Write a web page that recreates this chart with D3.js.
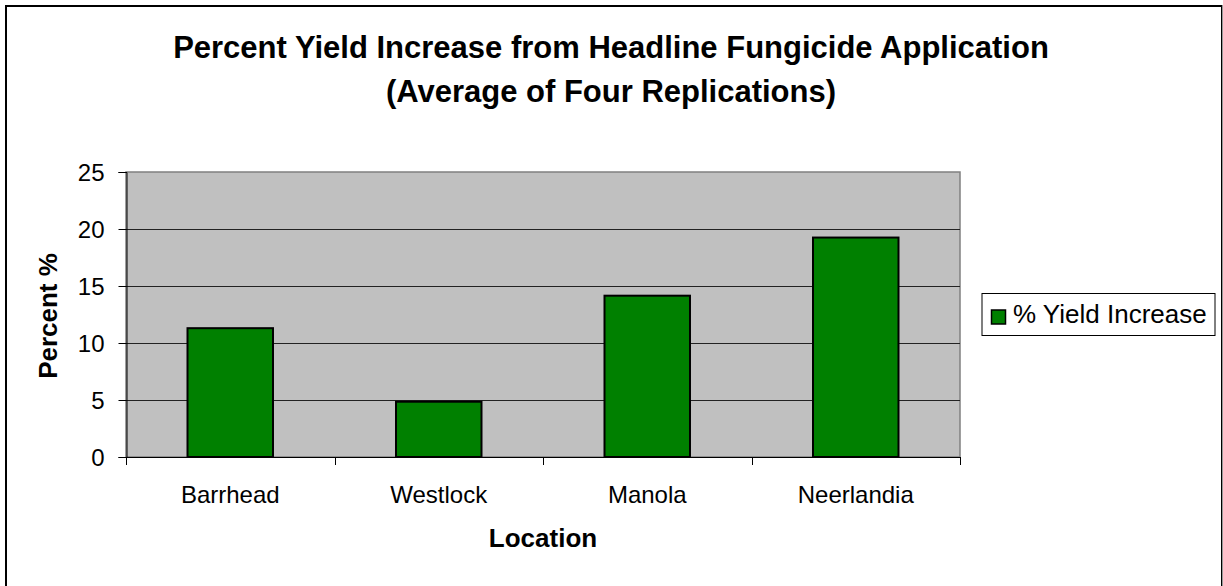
<!DOCTYPE html>
<html><head><meta charset="utf-8">
<script src="https://cdn.jsdelivr.net/npm/d3@7"></script>
<style>body{margin:0;background:#fff}svg{display:block;font-family:"Liberation Sans",Arial,sans-serif}</style>
</head><body><svg id="c" width="1223" height="586"></svg>
<script>
const categories = ["Barrhead", "Westlock", "Manola", "Neerlandia"];
const values = [11.3, 4.85, 14.15, 19.25];
const yTicks = [0, 5, 10, 15, 20, 25];
const seriesName = "% Yield Increase";
const titleLines = ["Percent Yield Increase from Headline Fungicide Application", "(Average of Four Replications)"];

const svg = d3.select("#c");
const L = 126, R = 960, T = 172, B = 457;

// outer border
svg.append("rect").attr("x", 6).attr("y", 6).attr("width", 1216).attr("height", 590)
  .attr("fill", "#fff").attr("stroke", "#000").attr("stroke-width", 2);
svg.append("line").attr("x1", 1222.5).attr("x2", 1222.5).attr("y1", 5).attr("y2", 586).attr("stroke", "#999").attr("stroke-width", 1);

const x = d3.scaleBand().domain(categories).range([L, R]).padding(0);
const y = d3.scaleLinear().domain([0, 25]).range([B, T]);

// plot background
svg.append("rect").attr("x", L).attr("y", T).attr("width", R - L).attr("height", B - T)
  .attr("fill", "#c0c0c0").attr("stroke", "#808080").attr("stroke-width", 1.5);

// gridlines
svg.append("g").selectAll("line").data(yTicks.filter(d => d > 0 && d < 25)).join("line")
  .attr("x1", L).attr("x2", R).attr("y1", d => Math.round(y(d)) + 0.5).attr("y2", d => Math.round(y(d)) + 0.5)
  .attr("stroke", "#222").attr("stroke-width", 1);

// bars
const bw = x.bandwidth() * 0.41;
svg.append("g").selectAll("rect").data(values).join("rect")
  .attr("x", (d, i) => x(categories[i]) + (x.bandwidth() - bw) / 2)
  .attr("y", d => y(d))
  .attr("width", bw)
  .attr("height", d => B - y(d))
  .attr("fill", "#008000").attr("stroke", "#000").attr("stroke-width", 2);

// y axis
const yAxis = svg.append("g").attr("transform", `translate(${L + 0.5},0)`)
  .call(d3.axisLeft(y).tickValues(yTicks).tickSize(8).tickPadding(14));
yAxis.select(".domain").attr("stroke", "#000");
yAxis.selectAll(".tick line").attr("stroke", "#000");
yAxis.selectAll("text").attr("font-size", 24).attr("fill", "#000").attr("dy", "0.36em")
  .attr("font-family", "Liberation Sans, Arial, sans-serif");

// x axis
svg.append("line").attr("x1", L).attr("x2", R).attr("y1", B + 0.5).attr("y2", B + 0.5).attr("stroke", "#000");
const bounds = categories.map(c => x(c)).concat([R]);
svg.append("g").selectAll("line").data(bounds).join("line")
  .attr("x1", d => Math.round(d) + 0.5).attr("x2", d => Math.round(d) + 0.5)
  .attr("y1", B).attr("y2", B + 8).attr("stroke", "#000");
svg.append("g").selectAll("text").data(categories).join("text")
  .attr("x", d => x(d) + x.bandwidth() / 2).attr("y", 503)
  .attr("text-anchor", "middle").attr("font-size", 24).text(d => d);

// titles
svg.append("g").selectAll("text").data(titleLines).join("text")
  .attr("x", 611).attr("y", (d, i) => 58 + i * 44)
  .attr("text-anchor", "middle").attr("font-size", 31).attr("font-weight", "bold").text(d => d);
svg.append("text").attr("x", 543).attr("y", 547).attr("text-anchor", "middle")
  .attr("font-size", 26).attr("font-weight", "bold").text("Location");
svg.append("text").attr("transform", "translate(57,316) rotate(-90)").attr("text-anchor", "middle")
  .attr("font-size", 26).attr("font-weight", "bold").text("Percent %");

// legend
const lg = svg.append("g");
lg.append("rect").attr("x", 982).attr("y", 293.5).attr("width", 233).attr("height", 42)
  .attr("fill", "#fff").attr("stroke", "#000").attr("stroke-width", 1);
lg.append("rect").attr("x", 991.5).attr("y", 310).attr("width", 14).attr("height", 14)
  .attr("fill", "#008000").attr("stroke", "#000").attr("stroke-width", 1.5);
lg.append("text").attr("x", 1013).attr("y", 323).attr("font-size", 26).text(seriesName);
</script></body></html>
